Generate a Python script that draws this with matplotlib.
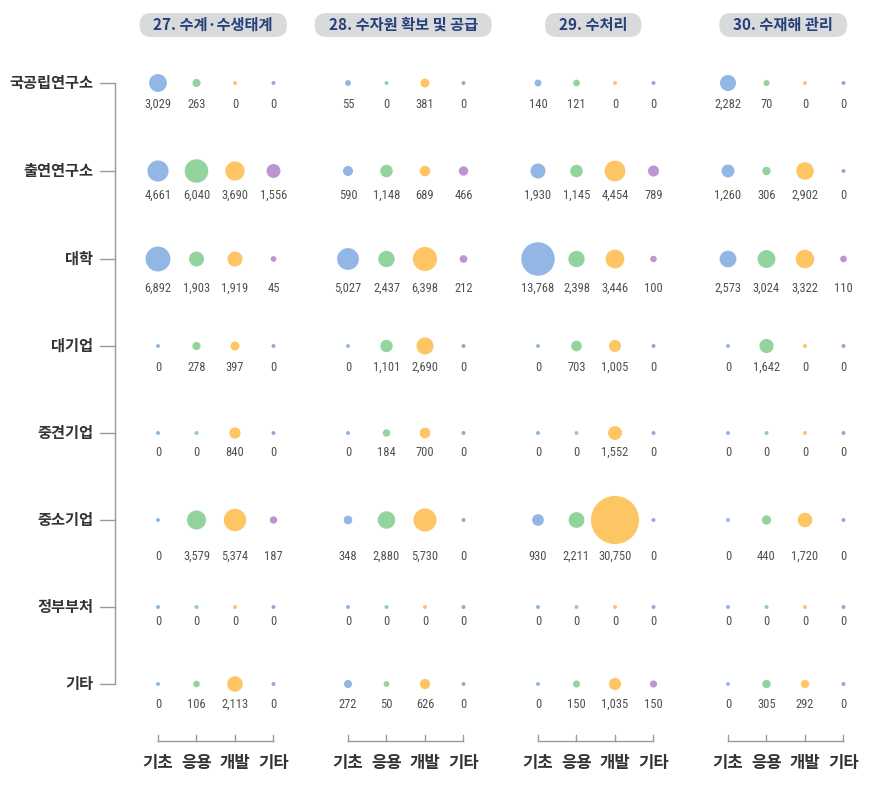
import matplotlib
matplotlib.use("Agg")
import matplotlib.pyplot as plt
from matplotlib import font_manager
from matplotlib.patches import FancyBboxPatch
import numpy as np

plt.rcParams['font.family'] = ['Noto Sans CJK KR', 'DejaVu Sans']

# ---------------- data ----------------
orgs = ['국공립연구소', '출연연구소', '대학', '대기업', '중견기업', '중소기업', '정부부처', '기타']
stages = ['기초', '응용', '개발', '기타']
panel_titles = [('27.', '수계·수생태계'), ('28.', '수자원 확보 및 공급'),
                ('29.', '수처리'), ('30.', '수재해 관리')]

# rows = orgs, columns = stages (기초, 응용, 개발, 기타)
panel_27 = [[3029, 263, 0, 0],
            [4661, 6040, 3690, 1556],
            [6892, 1903, 1919, 45],
            [0, 278, 397, 0],
            [0, 0, 840, 0],
            [0, 3579, 5374, 187],
            [0, 0, 0, 0],
            [0, 106, 2113, 0]]
panel_28 = [[55, 0, 381, 0],
            [590, 1148, 689, 466],
            [5027, 2437, 6398, 212],
            [0, 1101, 2690, 0],
            [0, 184, 700, 0],
            [348, 2880, 5730, 0],
            [0, 0, 0, 0],
            [272, 50, 626, 0]]
panel_29 = [[140, 121, 0, 0],
            [1930, 1145, 4454, 789],
            [13768, 2398, 3446, 100],
            [0, 703, 1005, 0],
            [0, 0, 1552, 0],
            [930, 2211, 30750, 0],
            [0, 0, 0, 0],
            [0, 150, 1035, 150]]
panel_30 = [[2282, 70, 0, 0],
            [1260, 306, 2902, 0],
            [2573, 3024, 3322, 110],
            [0, 1642, 0, 0],
            [0, 0, 0, 0],
            [0, 440, 1720, 0],
            [0, 0, 0, 0],
            [0, 305, 292, 0]]
panels = [panel_27, panel_28, panel_29, panel_30]

# ---------------- style / layout ----------------
colors = ['#93b7e5', '#93d39e', '#fdc563', '#bc95d3']
W, H = 886, 798
x0, panel_step, cat_step = 158, 190, 38.5
row_y = [83, 171, 259, 346, 433, 520, 607, 684]

installed = {f.name for f in font_manager.fontManager.ttflist}
narrow = None
for cand in ['Liberation Sans Narrow', 'DejaVu Sans Condensed', 'Roboto Condensed',
             'Open Sans Condensed', 'Noto Sans Condensed']:
    if cand in installed:
        narrow = cand
        break
if narrow is None:
    num_font, num_size, num_stretch = ['Roboto', 'DejaVu Sans'], 8.6, 'normal'
else:
    num_font, num_size, num_stretch = [narrow, 'DejaVu Sans'], 9, 'condensed'

def diam_px(v):
    return 4 + 0.2514 * np.sqrt(v)

fig = plt.figure(figsize=(W / 100, H / 100), dpi=100)
ax = fig.add_axes([0, 0, 1, 1])
ax.set_xlim(0, W)
ax.set_ylim(H, 0)
ax.axis('off')

data = np.array(panels, dtype=float)  # panel, row, stage
row_max_r = diam_px(data.max(axis=(0, 2))) / 2

headers = []
for p, vals in enumerate(panels):
    vals = np.array(vals, dtype=float)
    xs = x0 + p * panel_step + np.arange(4) * cat_step
    for c in range(4):
        d = diam_px(vals[:, c]) * 0.72
        ax.scatter(np.full(len(row_y), xs[c]), row_y, s=d ** 2, color=colors[c],
                   linewidths=0, zorder=3)
        for r in range(len(row_y)):
            ax.text(xs[c], row_y[r] + row_max_r[r] + 12.5, f"{int(vals[r, c]):,}",
                    ha='center', va='center', fontsize=num_size, color='#505050',
                    family=num_font, fontstretch=num_stretch)
    # bottom bracket axis
    ax.plot([xs[0], xs[-1]], [741, 741], color='#9a9a9a', lw=1)
    for c in range(4):
        ax.plot([xs[c], xs[c]], [741, 735], color='#9a9a9a', lw=1)
        ax.text(xs[c], 763, stages[c], ha='center', va='center', fontsize=12,
                fontweight='bold', color='#333333')
    # header text
    cx = (xs[0] + xs[-1]) / 2 - 2.5
    num, name = panel_titles[p]
    t = ax.text(cx, 25, f"{num} {name}", ha='center', va='center', fontsize=11,
                fontweight='bold', color='#27407a', zorder=2)
    headers.append((cx, t))

# header pills sized from the rendered text width
fig.canvas.draw()
renderer = fig.canvas.get_renderer()
for cx, t in headers:
    bb = t.get_window_extent(renderer)
    tw = bb.width  # 1 data unit == 1 px
    pw = tw + 28
    pill = FancyBboxPatch((cx - pw / 2 + 12, 25), pw - 24, 0.001,
                          boxstyle="round,pad=12,rounding_size=12",
                          fc='#d9dadc', ec='none', zorder=1)
    ax.add_patch(pill)

# left axis
ax.plot([115, 115], [row_y[0], row_y[-1]], color='#9a9a9a', lw=1)
for r, name in enumerate(orgs):
    ax.plot([100, 115], [row_y[r], row_y[r]], color='#9a9a9a', lw=1)
    ax.text(93, row_y[r], name, ha='right', va='center', fontsize=11,
            fontweight='bold', color='#333333')

fig.savefig('out.png', dpi=100, facecolor='white')
